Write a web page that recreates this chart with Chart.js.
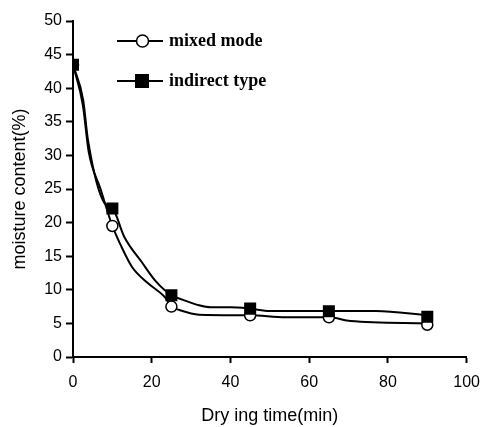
<!DOCTYPE html>
<html>
<head>
<meta charset="utf-8">
<script src="https://cdn.jsdelivr.net/npm/chart.js@4"></script>
<style>
  html, body { margin: 0; padding: 0; background: #fff; }
  #wrap { width: 490px; height: 427px; }
</style>
</head>
<body>
<div id="wrap"><canvas id="dryChart" width="490" height="427"></canvas></div>
<script>
// marker points (measured times)
var timeMin = [0, 10, 25, 45, 65, 90];
var mixedMode = [43.5, 19.5, 7.5, 6.2, 5.9, 4.8];
var indirectType = [43.5, 22.1, 9.2, 7.2, 6.8, 6.0];

// smoothed curves as drawn in the figure
var mixedCurveX = [0, 2.5, 4, 7, 10, 12, 15, 19, 23.5, 25, 27, 32, 45, 54, 65, 70.5, 90];
var mixedCurveY = [43.5, 37.5, 30.5, 25, 19.5, 16.8, 13.4, 11, 8.8, 7.5, 7.0, 6.3, 6.2, 5.9, 5.9, 5.35, 5.0];
var indirectCurveX = [0, 2.6, 3.8, 8, 10, 13, 17.5, 21, 25, 28, 32, 35, 40, 45, 50, 77, 90];
var indirectCurveY = [43.5, 38.2, 32.3, 22.9, 22.2, 17.9, 14.1, 11.3, 9.2, 8.5, 7.7, 7.4, 7.4, 7.2, 6.85, 6.85, 6.2];

var xTicks = [0, 20, 40, 60, 80, 100];
var yTicks = [0, 5, 10, 15, 20, 25, 30, 35, 40, 45, 50];

function toPoints(xs, ys) {
  return xs.map((x, i) => ({ x: x, y: ys[i] }));
}

// legend drawn inside the plot, like the original figure
const innerLegend = {
  id: 'innerLegend',
  afterDraw(chart) {
    const ctx = chart.ctx;
    const items = [
      { label: chart.data.datasets[1].label, y: 41, style: 'circle' },
      { label: chart.data.datasets[0].label, y: 81, style: 'rect' }
    ];
    ctx.save();
    items.forEach(item => {
      ctx.strokeStyle = '#000';
      ctx.lineWidth = 2;
      ctx.beginPath();
      ctx.moveTo(117, item.y);
      ctx.lineTo(163, item.y);
      ctx.stroke();
      if (item.style === 'circle') {
        ctx.fillStyle = '#fff';
        ctx.lineWidth = 1.5;
        ctx.beginPath();
        ctx.arc(142.5, item.y, 6, 0, Math.PI * 2);
        ctx.fill();
        ctx.stroke();
      } else {
        ctx.fillStyle = '#000';
        ctx.fillRect(135, item.y - 7, 14, 14);
      }
      ctx.fillStyle = '#000';
      ctx.font = 'bold 18px "Liberation Serif", "Times New Roman", serif';
      ctx.textBaseline = 'alphabetic';
      ctx.textAlign = 'left';
      ctx.fillText(item.label, 169, item.y + 5);
    });
    ctx.restore();
  }
};

const ctx = document.getElementById('dryChart').getContext('2d');
const dryChart = new Chart(ctx, {
  type: 'scatter',
  data: {
    datasets: [
      {
        label: 'indirect type',
        data: toPoints(timeMin, indirectType),
        pointStyle: 'rect',
        pointRadius: 8.5,
        pointBackgroundColor: '#000',
        pointBorderColor: '#000',
        pointBorderWidth: 0,
        showLine: false,
        order: 0
      },
      {
        label: 'mixed mode',
        data: toPoints(timeMin, mixedMode),
        pointStyle: 'circle',
        pointRadius: 5.5,
        pointBackgroundColor: '#fff',
        pointBorderColor: '#000',
        pointBorderWidth: 1.5,
        showLine: false,
        order: 1
      },
      {
        label: 'indirect curve',
        data: toPoints(indirectCurveX, indirectCurveY),
        showLine: true,
        pointRadius: 0,
        borderColor: '#000',
        borderWidth: 2,
        cubicInterpolationMode: 'monotone',
        order: 2
      },
      {
        label: 'mixed curve',
        data: toPoints(mixedCurveX, mixedCurveY),
        showLine: true,
        pointRadius: 0,
        borderColor: '#000',
        borderWidth: 2,
        cubicInterpolationMode: 'monotone',
        order: 3
      }
    ]
  },
  options: {
    responsive: false,
    animation: false,
    layout: { padding: { top: 21, right: 18, left: 0, bottom: 0 } },
    plugins: {
      legend: { display: false },
      tooltip: { enabled: false }
    },
    scales: {
      x: {
        type: 'linear',
        min: 0,
        max: 100,
        afterBuildTicks: scale => { scale.ticks = xTicks.map(v => ({ value: v })); },
        afterFit: scale => { scale.height = 70; },
        grid: { drawOnChartArea: false, tickLength: 6, tickWidth: 2, tickColor: '#000' },
        border: { color: '#000', width: 2 },
        ticks: {
          color: '#000',
          padding: 10,
          maxRotation: 0,
          font: { family: '"Liberation Sans", Arial, sans-serif', size: 16 }
        },
        title: {
          display: true,
          text: 'Dry ing time(min)',
          color: '#000',
          padding: { top: 0, bottom: 0 },
          font: { family: '"Liberation Sans", Arial, sans-serif', size: 18 }
        }
      },
      y: {
        type: 'linear',
        min: 0,
        max: 50,
        afterBuildTicks: scale => { scale.ticks = yTicks.map(v => ({ value: v })); },
        afterFit: scale => { scale.width = 73; },
        grid: { drawOnChartArea: false, tickLength: 7, tickWidth: 2, tickColor: '#000' },
        border: { color: '#000', width: 2 },
        ticks: {
          color: '#000',
          padding: 4,
          font: { family: '"Liberation Sans", Arial, sans-serif', size: 16 }
        },
        title: {
          display: true,
          text: 'moisture content(%)',
          color: '#000',
          padding: { top: 9, bottom: 0 },
          font: { family: '"Liberation Sans", Arial, sans-serif', size: 18 }
        }
      }
    }
  },
  plugins: [innerLegend]
});
</script>
</body>
</html>
